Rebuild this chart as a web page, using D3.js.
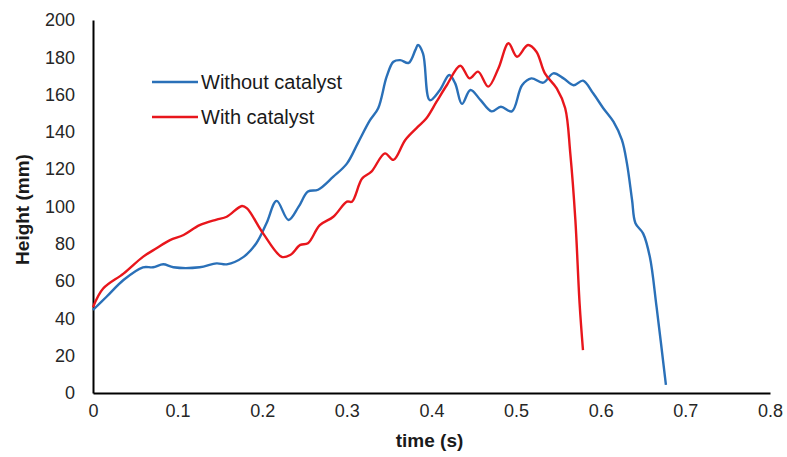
<!DOCTYPE html>
<html>
<head>
<meta charset="utf-8">
<script src="https://cdn.jsdelivr.net/npm/d3@7"></script>
<style>
    body { margin: 0; background: #fff; }
    svg { font-family: "Liberation Sans", Arial, sans-serif; }
</style>
</head>
<body>
<div id="chart"></div>
<script>

// time (s) and height (mm)
var timeWithout = [0, 0.016, 0.036, 0.059, 0.071, 0.083, 0.095, 0.126, 0.146, 0.158, 0.178, 0.193, 0.205, 0.217, 0.231, 0.243, 0.254, 0.266, 0.284, 0.300, 0.313, 0.327, 0.337, 0.347, 0.355, 0.363, 0.373, 0.381, 0.384, 0.390, 0.398, 0.410, 0.421, 0.428, 0.436, 0.446, 0.458, 0.471, 0.482, 0.495, 0.507, 0.518, 0.532, 0.544, 0.556, 0.568, 0.579, 0.591, 0.603, 0.615, 0.625, 0.631, 0.637, 0.641, 0.650, 0.658, 0.666, 0.677];
var heightWithout = [44.5, 51.6, 60.6, 67.4, 67.4, 69, 67.4, 67.4, 69.5, 69, 73, 80.3, 91, 103, 92.8, 99.9, 108, 109, 116, 123, 134, 146, 152.7, 169.6, 177.6, 178.5, 177, 184, 186.6, 182, 157, 162.5, 170.5, 166, 155, 162.5, 157, 151, 153.5, 151, 165, 168.7, 166.4, 171.4, 168.7, 165, 167.5, 160.7, 152.7, 145.5, 135.7, 123, 103.5, 91, 85.6, 73, 46, 4.3];

var timeWith = [0, 0.012, 0.036, 0.059, 0.075, 0.091, 0.107, 0.126, 0.146, 0.158, 0.176, 0.182, 0.201, 0.223, 0.233, 0.245, 0.254, 0.268, 0.284, 0.300, 0.306, 0.318, 0.329, 0.345, 0.355, 0.369, 0.384, 0.394, 0.406, 0.418, 0.434, 0.445, 0.455, 0.467, 0.479, 0.491, 0.501, 0.514, 0.524, 0.534, 0.548, 0.558, 0.564, 0.570, 0.575, 0.579];
var heightWith = [46, 56, 64, 73, 77.6, 82, 84.7, 90, 93, 94.5, 100.3, 99, 85.6, 73, 74, 79.4, 80.3, 90, 94.5, 102.6, 102.6, 115, 118.7, 128.5, 125, 135.7, 142.8, 147.3, 156.2, 165, 175.5, 168.7, 172.3, 164.3, 174, 187.5, 180.3, 186.6, 183, 171.4, 163.3, 152.7, 128.5, 92.8, 48, 23];

var xTicks = [0, 0.1, 0.2, 0.3, 0.4, 0.5, 0.6, 0.7, 0.8];
var yTicks = [0, 20, 40, 60, 80, 100, 120, 140, 160, 180, 200];

var seriesNames = ["Without catalyst", "With catalyst"];
var seriesColors = ["#2a70b8", "#e8161c"];

var width = 787, height = 457;
var marginLeft = 93, marginTop = 20, marginRight = 17, marginBottom = 64;
var chartWidth = width - marginLeft - marginRight;
var chartHeight = height - marginTop - marginBottom;

var svg = d3.select("#chart")
    .append("svg")
    .attr("width", width)
    .attr("height", height);

var chart = svg.append("g")
    .attr("transform", "translate(" + marginLeft + "," + marginTop + ")");

// scales
var xScale = d3.scaleLinear().domain([0, 0.8]).range([0, chartWidth]);
var yScale = d3.scaleLinear().domain([0, 200]).range([chartHeight, 0]);

// x axis
var xAxis = chart.append("g")
    .attr("transform", "translate(0," + chartHeight + ")")
    .call(d3.axisBottom(xScale).tickValues(xTicks).tickSize(0).tickPadding(11)
        .tickFormat(function(d) { return d === 0 ? "0" : d3.format(".1f")(d); }));

// y axis
var yAxis = chart.append("g")
    .call(d3.axisLeft(yScale).tickValues(yTicks).tickSize(0).tickPadding(18));

[xAxis, yAxis].forEach(function(ax) {
    ax.select(".domain").attr("stroke", "#000").attr("stroke-width", 2);
    ax.selectAll("text").attr("font-size", "18px").attr("fill", "#262626")
        .attr("font-family", "'Liberation Sans', Arial, sans-serif");
});

// axis titles
svg.append("text")
    .attr("x", marginLeft + xScale(0.4) - 2)
    .attr("y", 440)
    .attr("dy", "0.35em")
    .attr("text-anchor", "middle")
    .attr("font-size", "19px")
    .attr("font-weight", "bold")
    .attr("fill", "#1a1a1a")
    .text("time (s)");

svg.append("text")
    .attr("transform", "translate(22," + (marginTop + yScale(100) + 3) + ") rotate(-90)")
    .attr("dy", "0.35em")
    .attr("text-anchor", "middle")
    .attr("font-size", "19px")
    .attr("font-weight", "bold")
    .attr("fill", "#1a1a1a")
    .text("Height (mm)");

// lines
var line = d3.line()
    .x(function(d) { return xScale(d[0]); })
    .y(function(d) { return yScale(d[1]); })
    .curve(d3.curveCatmullRom.alpha(0.5));

var series = [
    d3.zip(timeWithout, heightWithout),
    d3.zip(timeWith, heightWith)
];

chart.selectAll("path.series")
    .data(series)
    .enter()
    .append("path")
    .attr("class", "series")
    .attr("fill", "none")
    .attr("stroke", function(d, i) { return seriesColors[i]; })
    .attr("stroke-width", 2.4)
    .attr("stroke-linejoin", "round")
    .attr("d", line);

// legend
var legend = svg.append("g").attr("transform", "translate(152,82)");
var items = legend.selectAll("g")
    .data(seriesNames)
    .enter()
    .append("g")
    .attr("transform", function(d, i) { return "translate(0," + (i * 35) + ")"; });

items.append("line")
    .attr("x1", 0).attr("x2", 46)
    .attr("stroke", function(d, i) { return seriesColors[i]; })
    .attr("stroke-width", 2.4);

items.append("text")
    .attr("x", 49)
    .attr("dy", "0.35em")
    .attr("font-size", "20px")
    .attr("fill", "#1a1a1a")
    .text(function(d) { return d; });

</script>
</body>
</html>
